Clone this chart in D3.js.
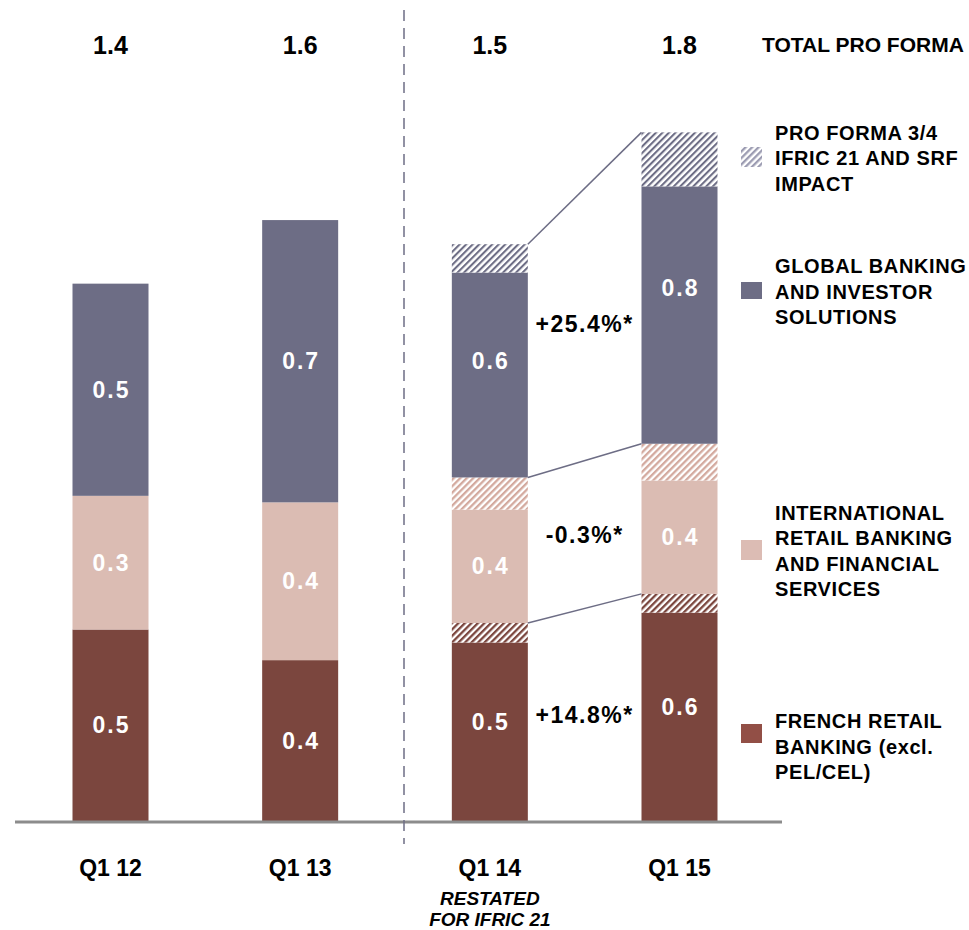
<!DOCTYPE html>
<html>
<head>
<meta charset="utf-8">
<script src="https://cdn.jsdelivr.net/npm/d3@7"></script>
<style>
  html, body { margin: 0; padding: 0; background: #fff; }
  svg { display: block; font-family: "Liberation Sans", Arial, Helvetica, sans-serif; font-weight: bold; }
</style>
</head>
<body>
<svg id="chart" width="969" height="930"></svg>
<script>
// ---------- DATA ----------
const categories = ["Q1 12", "Q1 13", "Q1 14", "Q1 15"];
const french   = [0.500, 0.420, 0.466, 0.544];
const frenchPF = [0.000, 0.000, 0.051, 0.049];
const intl     = [0.349, 0.412, 0.296, 0.296];
const intlPF   = [0.000, 0.000, 0.084, 0.096];
const global   = [0.554, 0.737, 0.535, 0.672];
const globalPF = [0.000, 0.000, 0.074, 0.141];

const totalLabels  = ["1.4", "1.6", "1.5", "1.8"];
const frenchLabels = ["0.5", "0.4", "0.5", "0.6"];
const intlLabels   = ["0.3", "0.4", "0.4", "0.4"];
const globalLabels = ["0.5", "0.7", "0.6", "0.8"];
const growthLabels = ["+14.8%*", "-0.3%*", "+25.4%*"]; // French, International, Global
const subLabel = ["RESTATED", "FOR IFRIC 21"];
const totalTitle = "TOTAL PRO FORMA";
const legendItems = [
  ["PRO FORMA 3/4", "IFRIC 21 AND SRF", "IMPACT"],
  ["GLOBAL BANKING", "AND INVESTOR", "SOLUTIONS"],
  ["INTERNATIONAL", "RETAIL BANKING", "AND FINANCIAL", "SERVICES"],
  ["FRENCH RETAIL", "BANKING (excl.", "PEL/CEL)"]
];

// ---------- STYLE ----------
const C = {
  global: "#6d6d85", intl: "#dbbcb3", french: "#7b463e",
  globalPF: "#6d6d85", intlPF: "#d3a99e", frenchPF: "#7b463e",
  legendPF: "#9c9cb2", legendFrench: "#924f46", legendIntl: "#dcbcb4",
  axis: "#8c8c8c", connector: "#6d6d85"
};

const svg = d3.select("#chart");
const defs = svg.append("defs");
function hatch(id, color, w) {
  const p = defs.append("pattern").attr("id", id)
    .attr("patternUnits", "userSpaceOnUse")
    .attr("width", 4.6).attr("height", 4.6)
    .attr("patternTransform", "rotate(45)");
  p.append("rect").attr("width", 4.6).attr("height", 4.6).attr("fill", "#fff");
  p.append("rect").attr("width", w).attr("height", 4.6).attr("fill", color);
}
hatch("h-global", C.globalPF, 2.1);
hatch("h-intl", C.intlPF, 2.3);
hatch("h-french", C.frenchPF, 2.3);
hatch("h-legend", C.legendPF, 2.3);

// ---------- SCALES ----------
const baseY = 821;
const x = d3.scalePoint().domain(categories).range([110.5, 679.5]);
const y = d3.scaleLinear().domain([0, 1.8]).range([baseY, baseY - 1.8 * 383]);
const barW = 76;

const rows = categories.map((c, i) => ({
  cat: c, french: french[i], frenchPF: frenchPF[i], intl: intl[i],
  intlPF: intlPF[i], global: global[i], globalPF: globalPF[i]
}));
const keys = ["french", "frenchPF", "intl", "intlPF", "global", "globalPF"];
const fills = {
  french: C.french, frenchPF: "url(#h-french)", intl: C.intl,
  intlPF: "url(#h-intl)", global: C.global, globalPF: "url(#h-global)"
};
const stacked = d3.stack().keys(keys)(rows);

// ---------- BARS ----------
const gBars = svg.append("g");
stacked.forEach(layer => {
  gBars.selectAll(null).data(layer.filter(d => d[1] - d[0] > 0)).enter()
    .append("rect")
    .attr("x", d => x(d.data.cat) - barW / 2)
    .attr("width", barW)
    .attr("y", d => y(d[1]))
    .attr("height", d => y(d[0]) - y(d[1]))
    .attr("fill", fills[layer.key]);
});

// ---------- AXIS LINE ----------
svg.append("line").attr("x1", 15).attr("x2", 782)
  .attr("y1", baseY + 1).attr("y2", baseY + 1)
  .attr("stroke", C.axis).attr("stroke-width", 3);

// ---------- DASHED DIVIDER ----------
const divX = (x(categories[1]) + x(categories[2])) / 2 + 9;
svg.append("line").attr("x1", divX).attr("x2", divX)
  .attr("y1", 10).attr("y2", 844)
  .attr("stroke", C.connector).attr("stroke-width", 1.5)
  .attr("stroke-dasharray", "11,7");

// ---------- CONNECTORS ----------
const groupTops = ["frenchPF", "intlPF", "globalPF"];
const i14 = 2, i15 = 3;
groupTops.forEach(k => {
  const layer = stacked.find(l => l.key === k);
  svg.append("line")
    .attr("x1", x(categories[i14]) + barW / 2).attr("y1", y(layer[i14][1]))
    .attr("x2", x(categories[i15]) - barW / 2).attr("y2", y(layer[i15][1]))
    .attr("stroke", C.connector).attr("stroke-width", 1.5);
});

// ---------- VALUE LABELS ----------
function layerOf(k) { return stacked.find(l => l.key === k); }
const segLabelDefs = [
  { labels: frenchLabels, lo: "french", hi: "frenchPF" },
  { labels: intlLabels, lo: "intl", hi: "intl" },
  { labels: globalLabels, lo: "global", hi: "globalPF" }
];
segLabelDefs.forEach(def => {
  categories.forEach((c, i) => {
    const y0 = y(layerOf(def.lo)[i][0]);
    const y1 = y(layerOf(def.hi)[i][1]);
    svg.append("text")
      .attr("x", x(c) + 1).attr("y", (y0 + y1) / 2 + 8)
      .attr("text-anchor", "middle").attr("fill", "#fff")
      .attr("font-size", 23).attr("letter-spacing", 2)
      .text(def.labels[i]);
  });
});

// growth labels between Q1 14 and Q1 15
const growthDefs = [["french", "frenchPF"], ["intl", "intlPF"], ["global", "globalPF"]];
growthDefs.forEach((d, j) => {
  const c14 = (y(layerOf(d[0])[i14][0]) + y(layerOf(d[1])[i14][1])) / 2;
  const c15 = (y(layerOf(d[0])[i15][0]) + y(layerOf(d[1])[i15][1])) / 2;
  svg.append("text")
    .attr("x", (x(categories[i14]) + x(categories[i15])) / 2)
    .attr("y", (c14 + c15) / 2 + 8)
    .attr("text-anchor", "middle").attr("fill", "#000")
    .attr("font-size", 23).attr("letter-spacing", 1.5)
    .text(growthLabels[j]);
});

// ---------- TOTALS ----------
categories.forEach((c, i) => {
  svg.append("text").attr("x", x(c)).attr("y", 54)
    .attr("text-anchor", "middle").attr("font-size", 25)
    .text(totalLabels[i]);
});
svg.append("text").attr("x", 762).attr("y", 52)
  .attr("font-size", 21).text(totalTitle);

// ---------- CATEGORY LABELS ----------
categories.forEach(c => {
  svg.append("text").attr("x", x(c)).attr("y", 876)
    .attr("text-anchor", "middle").attr("font-size", 23)
    .text(c);
});
subLabel.forEach((t, k) => {
  svg.append("text").attr("x", x(categories[2])).attr("y", 905 + k * 21)
    .attr("text-anchor", "middle").attr("font-size", 19)
    .attr("font-style", "italic").text(t);
});

// ---------- LEGEND ----------
const legendLayout = [
  { top: 139.5, swY: 147, swH: 20, fill: "url(#h-legend)" },
  { top: 273, swY: 282, swH: 17, fill: C.global },
  { top: 519.5, swY: 540, swH: 20, fill: C.legendIntl },
  { top: 728, swY: 724, swH: 19, fill: C.legendFrench }
];
legendItems.forEach((lines, i) => {
  const L = legendLayout[i];
  svg.append("rect").attr("x", 741).attr("y", L.swY)
    .attr("width", 21).attr("height", L.swH).attr("fill", L.fill);
  lines.forEach((t, k) => {
    svg.append("text").attr("x", 775).attr("y", L.top + k * 25.5)
      .attr("font-size", 20).attr("letter-spacing", 0.6)
      .text(t);
  });
});
</script>
</body>
</html>
